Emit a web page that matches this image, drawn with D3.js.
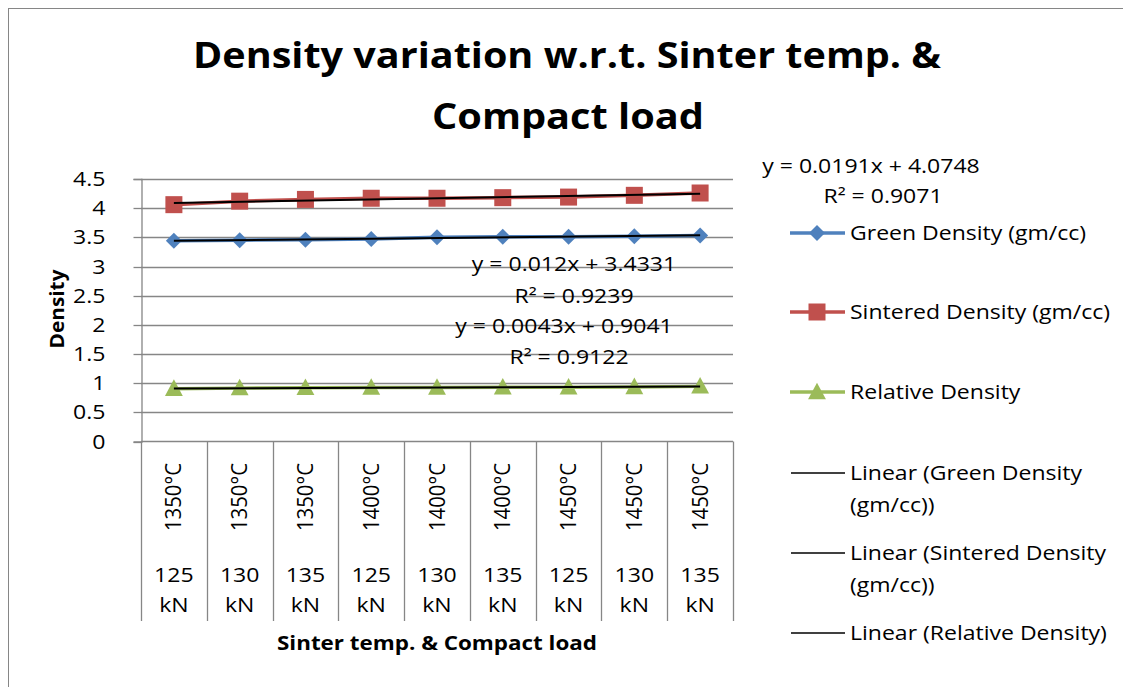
<!DOCTYPE html>
<html><head><meta charset="utf-8">
<script src="https://cdn.jsdelivr.net/npm/d3@7"></script>
<style>body{margin:0;background:#fff;} svg{display:block;} text{font-family:"Open Sans",sans-serif;fill:#000;}</style>
</head><body>
<svg id="c" width="1123" height="687"></svg>
<script>
const temps = ["1350°C","1350°C","1350°C","1400°C","1400°C","1400°C","1450°C","1450°C","1450°C"];
const loads = ["125","130","135","125","130","135","125","130","135"];
const greenDensity = [3.44,3.45,3.46,3.47,3.50,3.51,3.51,3.52,3.53];
const sinteredDensity = [4.06,4.12,4.15,4.17,4.17,4.18,4.19,4.22,4.26];
const relativeDensity = [0.905,0.915,0.92,0.925,0.925,0.93,0.93,0.935,0.945];
const yTicks = [0,0.5,1,1.5,2,2.5,3,3.5,4,4.5];
const trendText = [["y = 0.012x + 3.4331","R² = 0.9239"],["y = 0.0191x + 4.0748","R² = 0.9071"],["y = 0.0043x + 0.9041","R² = 0.9122"]];
const seriesNames = ["Green Density (gm/cc)","Sintered Density (gm/cc)","Relative Density"];
const trendNames = [["Linear (Green Density","(gm/cc))"],["Linear (Sintered Density","(gm/cc))"],["Linear (Relative Density)"]];
const colors = ["#4F81BD","#C0504D","#9BBB59"];
const dataSets = [greenDensity, sinteredDensity, relativeDensity];

const svg = d3.select("#c");
const L=141, R=733, T=179, B=441.5;
svg.append("rect").attr("x",8.5).attr("y",8.5).attr("width",1130).attr("height",700).attr("fill","#fff").attr("stroke","#868686");

const SX=1.18;
function st(sel, w){
  sel.each(function(){
    const len=this.getComputedTextLength();
    d3.select(this).attr("textLength",(w||len*SX).toFixed(1)).attr("lengthAdjust","spacingAndGlyphs");
  });
  return sel;
}

const idx = d3.range(temps.length);
const x = d3.scaleBand().domain(idx).range([L,R]);
const y = d3.scaleLinear().domain([0,4.5]).range([B,T]);
const grid="#868686";
const FS=19.5;

svg.append("g").selectAll("line").data(yTicks.filter(d=>d>0)).join("line")
 .attr("x1",L).attr("x2",R).attr("y1",d=>Math.round(y(d))+0.5).attr("y2",d=>Math.round(y(d))+0.5)
 .attr("stroke",grid).attr("stroke-width",1.3);
const ya = svg.append("g").attr("transform",`translate(${L+0.5},0)`)
 .call(d3.axisLeft(y).tickValues(yTicks).tickSize(8).tickPadding(28).tickFormat(d=>String(d)));
ya.select(".domain").attr("stroke",grid).attr("stroke-width",1.3);
ya.selectAll(".tick line").attr("stroke",grid).attr("stroke-width",1.3);
ya.selectAll("text").attr("font-size",FS).attr("font-family","Open Sans").attr("fill","#000").attr("dy","0.34em");
ya.selectAll(".tick").attr("transform",d=>`translate(0,${Math.round(y(d))+0.5})`);
st(ya.selectAll("text"));

svg.append("line").attr("x1",L).attr("x2",R).attr("y1",B).attr("y2",B).attr("stroke",grid).attr("stroke-width",1.3);
const seps = idx.map(i=>x(i)).concat([R]);
svg.append("g").selectAll("line").data(seps).join("line")
 .attr("x1",d=>Math.round(d)+0.5).attr("x2",d=>Math.round(d)+0.5).attr("y1",B).attr("y2",621)
 .attr("stroke",grid).attr("stroke-width",1.3);
const cx = i=>x(i)+x.bandwidth()/2;
svg.append("g").selectAll("text").data(idx).join("text")
 .attr("transform",i=>`translate(${cx(i)+7.5},497) rotate(-90)`).attr("text-anchor","middle")
 .attr("font-size",21).attr("textLength",68).attr("lengthAdjust","spacingAndGlyphs").text(i=>temps[i]);
st(svg.append("g").selectAll("text").data(idx).join("text")
 .attr("x",cx).attr("y",582).attr("text-anchor","middle").attr("font-size",FS).text(i=>loads[i]));
st(svg.append("g").selectAll("text").data(idx).join("text")
 .attr("x",cx).attr("y",612).attr("text-anchor","middle").attr("font-size",FS).text("kN"));

st(svg.append("text").attr("x",567).attr("y",68).attr("text-anchor","middle").attr("font-size",35).attr("font-weight","bold").text("Density variation w.r.t. Sinter temp. &"),748);
st(svg.append("text").attr("x",568).attr("y",129).attr("text-anchor","middle").attr("font-size",35).attr("font-weight","bold").text("Compact load"),272);
svg.append("text").attr("transform","translate(64,309) rotate(-90)").attr("text-anchor","middle").attr("font-size",20).attr("font-weight","bold")
 .attr("textLength",79).attr("lengthAdjust","spacingAndGlyphs").text("Density");
st(svg.append("text").attr("x",437).attr("y",650).attr("text-anchor","middle").attr("font-size",19.5).attr("font-weight","bold").text("Sinter temp. & Compact load"),320);

function marker(g,k,size){
  if(k===0) g.append("path").attr("d",`M0,${-size}L${size},0L0,${size}L${-size},0Z`);
  else if(k===1) g.append("rect").attr("x",-size).attr("y",-size).attr("width",2*size).attr("height",2*size);
  else g.append("path").attr("d",`M0,${-size*1.1}L${size*1.05},${size*0.85}L${-size*1.05},${size*0.85}Z`);
}
const line = d3.line().x((d,i)=>cx(i)).y(d=>y(d));
const sizes=[8,8.5,8.5];
dataSets.forEach((ds,k)=>{
  const g = svg.append("g");
  g.append("path").datum(ds).attr("d",line).attr("fill","none").attr("stroke",colors[k]).attr("stroke-width",3.5);
  ds.forEach((v,i)=>{
    const m=g.append("g").attr("transform",`translate(${cx(i)},${y(v)})`).attr("fill",colors[k]);
    marker(m,k,sizes[k]);
  });
});
dataSets.forEach((ds,k)=>{
  const xs = ds.map((d,i)=>i+1);
  const mx=d3.mean(xs), my=d3.mean(ds);
  const s = d3.sum(xs.map((xv,i)=>(xv-mx)*(ds[i]-my)))/d3.sum(xs.map(xv=>(xv-mx)**2));
  const b = my - s*mx;
  svg.append("line").attr("x1",cx(0)).attr("x2",cx(ds.length-1))
   .attr("y1",y(b+s*1)).attr("y2",y(b+s*ds.length)).attr("stroke","#000").attr("stroke-width",2);
});
const tl=[[574,271,574,303],[871,173,883,203],[564,333,569,364]];
trendText.forEach((t,k)=>{
  st(svg.append("text").attr("x",tl[k][0]).attr("y",tl[k][1]).attr("text-anchor","middle").attr("font-size",FS).text(t[0]));
  st(svg.append("text").attr("x",tl[k][2]).attr("y",tl[k][3]).attr("text-anchor","middle").attr("font-size",FS).text(t[1]));
});

const legY=[233,312,392];
seriesNames.forEach((n,k)=>{
  const g=svg.append("g");
  g.append("line").attr("x1",790).attr("x2",845).attr("y1",legY[k]).attr("y2",legY[k]).attr("stroke",colors[k]).attr("stroke-width",3.5);
  const m=g.append("g").attr("transform",`translate(817,${legY[k]})`).attr("fill",colors[k]);
  marker(m,k,sizes[k]);
  st(g.append("text").attr("x",850).attr("y",legY[k]+7).attr("font-size",FS).text(n));
});
const tY=[473,553,633];
trendNames.forEach((n,k)=>{
  svg.append("line").attr("x1",791).attr("x2",845).attr("y1",tY[k]).attr("y2",tY[k]).attr("stroke","#000").attr("stroke-width",1.5);
  n.forEach((s,j)=>st(svg.append("text").attr("x",850).attr("y",tY[k]+7+j*32).attr("font-size",FS).text(s)));
});
</script>
</body></html>
